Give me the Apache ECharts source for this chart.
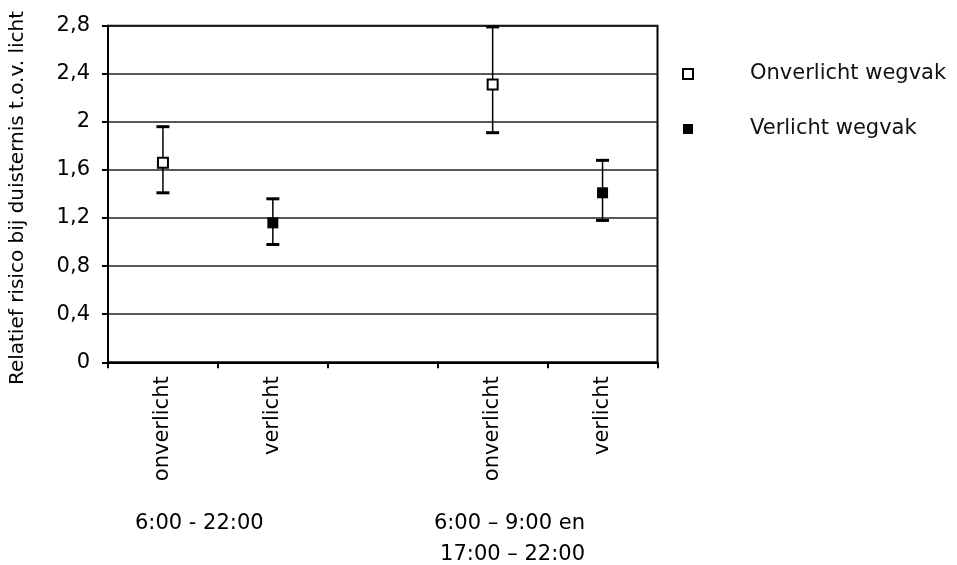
<!DOCTYPE html>
<html>
<head>
<meta charset="utf-8">
<script src="https://cdn.jsdelivr.net/npm/echarts@6/dist/echarts.min.js"></script>
<style>
  html, body { margin: 0; padding: 0; background: #fff; }
  #chart { width: 957px; height: 565px; }
</style>
</head>
<body>
<div id="chart"></div>
<script>
// categorieen langs de x-as (lege plek tussen de twee groepen)
var categories = ['onverlicht', 'verlicht', '', 'onverlicht', 'verlicht']
var groupLabels = ['6:00 - 22:00', '6:00 \u2013 9:00 en', '17:00 \u2013 22:00']
var seriesNames = ['Onverlicht wegvak', 'Verlicht wegvak']

// puntschattingen
var onverlichtValues = [1.66, '-', '-', 2.31, '-']
var verlichtValues = ['-', 1.16, '-', '-', 1.41]

// betrouwbaarheidsintervallen [categorie, onder, boven]
var errorBars = [
  [0, 1.41, 1.96],
  [1, 0.98, 1.36],
  [3, 1.91, 2.79],
  [4, 1.18, 1.68]
]

var myChart = echarts.init(document.getElementById('chart'))
var font = 'DejaVu Sans, Verdana, sans-serif'
var fs = 21

var option = {
  animation: false,
  backgroundColor: '#fff',
  textStyle: { fontFamily: font, color: '#000' },
  grid: {
    left: 107.5,
    right: 299.5,
    top: 25.7,
    bottom: 202.7,
    show: true,
    borderColor: '#000',
    borderWidth: 2,
    backgroundColor: 'transparent'
  },
  legend: {
    orient: 'vertical',
    left: 677,
    top: 57,
    itemWidth: 10,
    itemHeight: 10,
    itemGap: 31,
    textStyle: {
      fontFamily: font,
      fontSize: fs,
      lineHeight: 24,
      color: '#111',
      padding: [0, 0, 0, 52]
    },
    data: [
      { name: seriesNames[0], icon: 'rect' },
      { name: seriesNames[1], icon: 'rect' }
    ]
  },
  xAxis: {
    type: 'category',
    data: categories,
    boundaryGap: true,
    axisLine: { lineStyle: { color: '#000', width: 2 } },
    axisTick: { show: true, length: 6, lineStyle: { color: '#000', width: 2 } },
    axisLabel: {
      rotate: 90,
      margin: 14,
      fontFamily: font,
      fontSize: fs,
      color: '#000',
      interval: 0
    },
    splitLine: { show: false }
  },
  yAxis: {
    type: 'value',
    min: 0,
    max: 2.8,
    interval: 0.4,
    name: 'Relatief risico bij duisternis t.o.v. licht',
    nameLocation: 'middle',
    nameGap: 80,
    nameTextStyle: { fontFamily: font, fontSize: 20, color: '#000', padding: [0, 8, 0, 0] },
    axisLine: { show: true, lineStyle: { color: '#000', width: 2 } },
    axisTick: { show: true, length: 6, lineStyle: { color: '#000', width: 2 } },
    axisLabel: {
      margin: 18,
      fontFamily: font,
      fontSize: fs,
      color: '#000',
      formatter: function(v) {
        return String(Math.round(v * 10) / 10).replace('.', ',')
      }
    },
    splitLine: { show: true, lineStyle: { color: '#222', width: 1.5 } }
  },
  graphic: [
    {
      type: 'text',
      left: 135,
      top: 513,
      style: { text: groupLabels[0], font: fs + 'px ' + font, fill: '#000' }
    },
    {
      type: 'text',
      right: 372,
      top: 513,
      style: { text: groupLabels[1], font: fs + 'px ' + font, fill: '#000' }
    },
    {
      type: 'text',
      right: 372,
      top: 544,
      style: { text: groupLabels[2], font: fs + 'px ' + font, fill: '#000' }
    }
  ],
  series: [
    {
      type: 'custom',
      name: 'fout',
      z: 1,
      silent: true,
      renderItem: function(params, api) {
        var top = api.coord([api.value(0), api.value(2)])
        var bot = api.coord([api.value(0), api.value(1)])
        var half = 6.5
        var style = { stroke: '#000', lineWidth: 1.5 }
        var cap = { stroke: '#000', lineWidth: 3 }
        return {
          type: 'group',
          children: [
            { type: 'line', shape: { x1: top[0], y1: top[1], x2: bot[0], y2: bot[1] }, style: style },
            { type: 'line', shape: { x1: top[0] - half, y1: top[1], x2: top[0] + half, y2: top[1] }, style: cap },
            { type: 'line', shape: { x1: bot[0] - half, y1: bot[1], x2: bot[0] + half, y2: bot[1] }, style: cap }
          ]
        }
      },
      encode: { x: 0, y: [1, 2] },
      data: errorBars
    },
    {
      type: 'scatter',
      name: seriesNames[0],
      z: 3,
      symbol: 'rect',
      symbolSize: 10,
      itemStyle: { color: '#fff', borderColor: '#000', borderWidth: 2, opacity: 1 },
      data: onverlichtValues
    },
    {
      type: 'scatter',
      name: seriesNames[1],
      z: 3,
      symbol: 'rect',
      symbolSize: 11,
      itemStyle: { color: '#000', opacity: 1 },
      data: verlichtValues
    }
  ]
}

myChart.setOption(option)
window.onresize = function() {
  myChart.resize()
}
</script>
</body>
</html>
